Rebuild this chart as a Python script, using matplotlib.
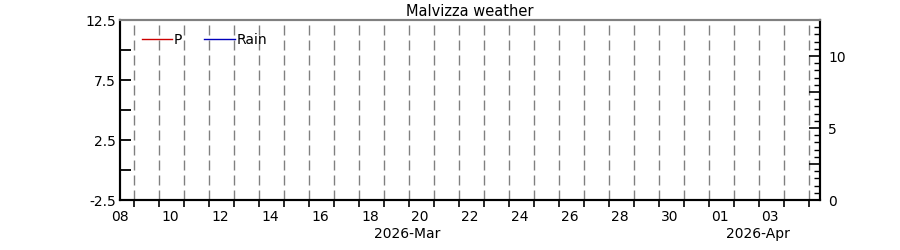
import matplotlib
matplotlib.use("Agg")
import matplotlib.pyplot as plt
import matplotlib.dates as mdates
import matplotlib.ticker as mticker
import datetime as dt

# ---- data ----
title = "Malvizza weather"
series_names = ["P", "Rain"]
series_colors = ["#cc0000", "#0000bb"]
p_times = []
p_values = []
rain_times = []
rain_values = []
x_start = dt.datetime(2026, 3, 8)
x_end = dt.datetime(2026, 4, 5)
left_ylim = (-2.5, 12.5)
right_ylim = (0, 12.5)
month_labels = ["2026-Mar", "2026-Apr"]
month_label_pos = [dt.datetime(2026, 3, 19, 12), dt.datetime(2026, 4, 2, 12, 30)]

fig = plt.figure(figsize=(9, 2.5), dpi=100)
ax = fig.add_axes([120/900, 50/250, 700/900, 180/250])
ax2 = ax.twinx()

l1, = ax.plot(p_times, p_values, color=series_colors[0], lw=1, label=series_names[0])
l2, = ax2.plot(rain_times, rain_values, color=series_colors[1], lw=1, label=series_names[1])

ax.set_xlim(mdates.date2num(x_start), mdates.date2num(x_end))
ax.set_ylim(*left_ylim)
ax2.set_ylim(*right_ylim)

# x axis: gridline ticks daily in the afternoon, labels every 2 days at midnight
ax.xaxis.set_major_locator(mticker.FixedLocator(
    [mdates.date2num(x_start) + d + 0.57 for d in range(28)]))
ax.xaxis.set_major_formatter(mticker.NullFormatter())
label_days = ([x_start + dt.timedelta(days=d) for d in range(0, 23, 2)] +
              [dt.datetime(2026, 4, 1) + dt.timedelta(days=d) for d in range(0, 4, 2)])
ax.xaxis.set_minor_locator(mticker.FixedLocator([mdates.date2num(d) for d in label_days]))
ax.xaxis.set_minor_formatter(mdates.DateFormatter("%d"))
ax.tick_params(axis="x", which="major", direction="out", length=5, width=1.2, top=False)
ax.tick_params(axis="x", which="minor", length=0, pad=7, labelsize=10)
ax.grid(True, axis="x", which="major", color="#808080", lw=1.0, linestyle=(0, (7.2, 3.6)))

# left y axis
ax.yaxis.set_major_locator(mticker.MultipleLocator(2.5))
ax.yaxis.set_major_formatter(mticker.FuncFormatter(
    lambda v, p: ("%.1f" % v) if abs((v / 2.5) % 2 - 1) < 1e-6 else ""))
ax.tick_params(axis="y", direction="in", length=8, width=1.3, pad=3, labelsize=10)

# right y axis
ax2.yaxis.set_major_locator(mticker.MultipleLocator(2.5))
ax2.yaxis.set_minor_locator(mticker.MultipleLocator(0.5))
ax2.yaxis.set_major_formatter(mticker.FuncFormatter(
    lambda v, p: ("%d" % round(v)) if abs(v / 5 - round(v / 5)) < 1e-6 else ""))
ax2.tick_params(axis="y", which="major", direction="in", length=8, width=1.2, pad=6, labelsize=10)
ax2.tick_params(axis="y", which="minor", direction="in", length=4, width=1.0)

for a in (ax, ax2):
    for s in ("left", "bottom", "right"):
        a.spines[s].set_linewidth(1.5)
        a.spines[s].set_color("black")
    a.spines["top"].set_linewidth(1.5)
    a.spines["top"].set_color("#808080")

for lab, pos in zip(month_labels, month_label_pos):
    ax.text(mdates.date2num(pos), -0.19, lab, transform=ax.get_xaxis_transform(),
            ha="center", va="center", fontsize=10)

ax.set_title(title, fontsize=10.5, pad=3)

ax.legend([l1, l2], series_names, loc="center left", bbox_to_anchor=(0.031, 0.89),
          ncol=2, frameon=False, fontsize=10, handlelength=2.2, handletextpad=0.1,
          columnspacing=1.6, borderaxespad=0, borderpad=0)

fig.savefig("out.png", dpi=100)
